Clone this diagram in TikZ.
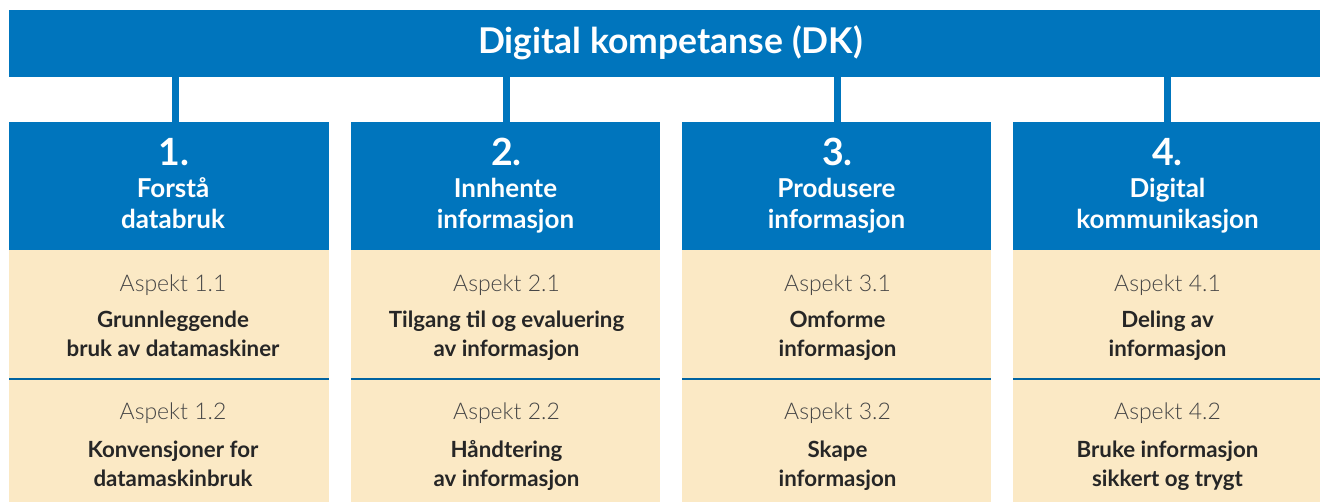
\documentclass[tikz,border=0pt]{standalone}
\usepackage{fontspec}
\setmainfont{Lato}
\newfontfamily\llight{Lato Light}
\definecolor{dkblue}{RGB}{0,117,189}
\definecolor{dkbeige}{RGB}{251,233,197}
\definecolor{dktext}{RGB}{38,38,38}
\definecolor{dkgray}{RGB}{70,70,70}
\begin{document}
\begin{tikzpicture}[x=1pt,y=-1pt,
  blk/.style={fill=dkblue,draw=none,inner sep=0pt,anchor=north west},
  bg/.style={fill=dkbeige,draw=none,inner sep=0pt,anchor=north west},
  ttl/.style={text=white,font=\bfseries\fontsize{35.5}{38}\selectfont,anchor=base,inner sep=0pt},
  num/.style={text=white,font=\bfseries\fontsize{37.5}{40}\selectfont,anchor=base,inner sep=0pt},
  hd/.style={text=white,font=\bfseries\fontsize{26}{31}\selectfont,anchor=base,inner sep=0pt},
  asp/.style={text=dkgray,font=\llight\fontsize{23}{27}\selectfont,anchor=base,inner sep=0pt},
  atitle/.style={text=dktext,font=\bfseries\fontsize{22.3}{29}\selectfont,anchor=base,inner sep=0pt},
  conn/.style={draw=dkblue,line width=7pt},
  divl/.style={draw=dkblue!85!black,line width=1.2pt}]
\useasboundingbox (0,0) rectangle (1320,502);
\node[blk,minimum width=1311pt,minimum height=67pt] (banner) at (9,10) {};
\node[ttl] (title) at (670.5,54) {Digital kompetanse (DK)};
% columns
\foreach \i/\xl/\w/\xc in {1/9/320/175.5,2/351/309/506.5,3/682/309/837.5,4/1013/307/1167.5}{
  \node[blk,minimum width=\w pt,minimum height=128pt] (h\i) at (\xl,122) {};
  \node[bg,minimum width=\w pt,minimum height=129pt] (a\i) at (\xl,250) {};
  \node[bg,minimum width=\w pt,minimum height=123pt] (b\i) at (\xl,379) {};
  \coordinate (c\i) at (\xc,122);
  \draw[conn] (banner.south -| c\i) -- (c\i);
  \draw[divl] (b\i.north west) -- (b\i.north east);
}
% headers
\node[num] (n1) at (174,166) {1.};
\node[hd] (f1a) at (173,198) {Forstå};
\node[hd] (f1b) at (173,229) {databruk};
\node[num] (n2) at (506.5,166) {2.};
\node[hd] (f2a) at (505.5,198) {Innhente};
\node[hd] (f2b) at (505.5,229) {informasjon};
\node[num] (n3) at (837.5,166) {3.};
\node[hd] (f3a) at (836.5,198) {Produsere};
\node[hd] (f3b) at (836.5,229) {informasjon};
\node[num] (n4) at (1167.5,166) {4.};
\node[hd] (f4a) at (1167.5,198) {Digital};
\node[hd] (f4b) at (1167.5,229) {kommunikasjon};
% aspects row 1
\node[asp] (s11) at (173,292) {Aspekt 1.1};
\node[atitle] (t11a) at (173,328) {Grunnleggende};
\node[atitle] (t11b) at (173,357) {bruk av datamaskiner};
\node[asp] (s21) at (506.5,292) {Aspekt 2.1};
\node[atitle] (t21a) at (506.5,328) {Tilgang til og evaluering};
\node[atitle] (t21b) at (506.5,357) {av informasjon};
\node[asp] (s31) at (837.5,292) {Aspekt 3.1};
\node[atitle] (t31a) at (837.5,328) {Omforme};
\node[atitle] (t31b) at (837.5,357) {informasjon};
\node[asp] (s41) at (1167.5,292) {Aspekt 4.1};
\node[atitle] (t41a) at (1167.5,328) {Deling av};
\node[atitle] (t41b) at (1167.5,357) {informasjon};
% aspects row 2
\node[asp] (s12) at (173,420) {Aspekt 1.2};
\node[atitle] (t12a) at (173,457) {Konvensjoner for};
\node[atitle] (t12b) at (173,486) {datamaskinbruk};
\node[asp] (s22) at (506.5,420) {Aspekt 2.2};
\node[atitle] (t22a) at (506.5,457) {Håndtering};
\node[atitle] (t22b) at (506.5,486) {av informasjon};
\node[asp] (s32) at (837.5,420) {Aspekt 3.2};
\node[atitle] (t32a) at (837.5,457) {Skape};
\node[atitle] (t32b) at (837.5,486) {informasjon};
\node[asp] (s42) at (1167.5,420) {Aspekt 4.2};
\node[atitle] (t42a) at (1167.5,457) {Bruke informasjon};
\node[atitle] (t42b) at (1167.5,486) {sikkert og trygt};
\end{tikzpicture}
\end{document}
